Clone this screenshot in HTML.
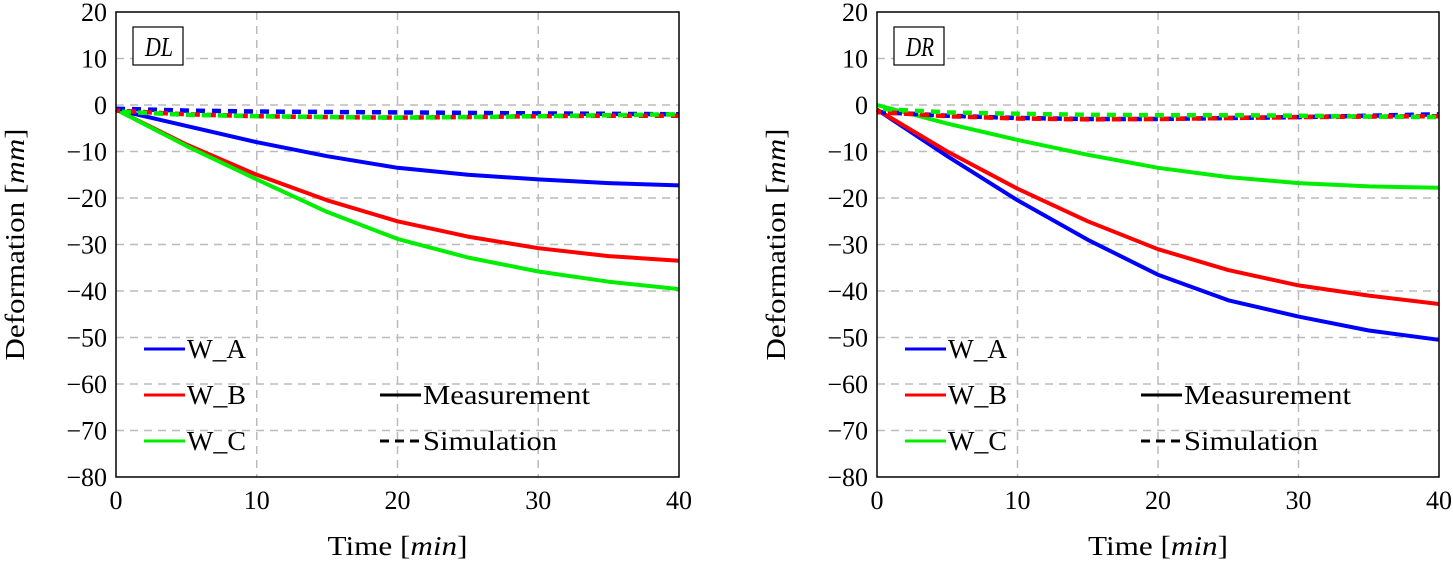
<!DOCTYPE html>
<html><head><meta charset="utf-8"><style>
body{margin:0;background:#fff;width:1453px;height:561px;overflow:hidden}
svg{font-family:"Liberation Serif",serif}
</style></head><body>
<svg id="s" width="1453" height="561"></svg>
<script>
const xVals=[0,5,10,15,20,25,30,35,40];
const xTicks=[0,10,20,30,40];
const yTicks=[20,10,0,-10,-20,-30,-40,-50,-60,-70,-80];
const seriesNames=["W_A","W_B","W_C"];
const dlMeasA=[-1,-4.5,-8,-11,-13.5,-15,-16,-16.8,-17.3];
const dlMeasB=[-1,-8.5,-15,-20.5,-25,-28.3,-30.8,-32.5,-33.5];
const dlMeasC=[-1,-8.8,-16,-23,-28.8,-32.8,-35.8,-38,-39.6];
const dlSimA=[-0.8,-1.2,-1.4,-1.5,-1.6,-1.7,-1.8,-1.9,-2];
const dlSimB=[-1.2,-2,-2.4,-2.6,-2.7,-2.6,-2.4,-2.3,-2.3];
const dlSimC=[-1.4,-2.1,-2.4,-2.6,-2.7,-2.6,-2.4,-2.2,-2];
const drMeasA=[-1,-11,-20.5,-29,-36.5,-42,-45.5,-48.5,-50.5];
const drMeasB=[-1,-10,-18,-25,-31,-35.5,-38.8,-41,-42.8];
const drMeasC=[0,-4,-7.5,-10.7,-13.5,-15.5,-16.8,-17.5,-17.8];
const drSimA=[-1.5,-2.3,-2.8,-3,-3,-2.8,-2.6,-2.3,-2];
const drSimB=[-1.5,-2.4,-2.9,-3.1,-3,-2.8,-2.6,-2.5,-2.4];
const drSimC=[-0.8,-1.6,-1.9,-2.1,-2.2,-2.2,-2.3,-2.5,-2.6];
const colors=["#0000ff","#ff0000","#00ee00"];
const NS="http://www.w3.org/2000/svg";
const svg=document.getElementById('s');
function mk(tag,attrs,parent,text){const e=document.createElementNS(NS,tag);for(const k in attrs)e.setAttribute(k,attrs[k]);if(text!==undefined)e.textContent=text;(parent||svg).appendChild(e);return e;}
function panel(x0,x1,title,meas,sims,id){
  const y0=12,y1=477;
  const sx=v=>x0+(v-0)/40*(x1-x0);
  const sy=v=>y0+(20-v)/100*(y1-y0);
  const g=mk('g',{});
  
  
  xTicks.forEach(t=>{if(t>0&&t<40){const l=mk('line',{x1:sx(t),x2:sx(t),y1:y0,y2:y1,stroke:'#bbb','stroke-width':1.5,'stroke-dasharray':'8 6'},g);}
    const tx=mk('text',{x:sx(t),y:y1+32,'text-anchor':'middle','font-size':26},g,String(t));});
  yTicks.forEach(t=>{if(t<20&&t>-80){const l=mk('line',{x1:x0,x2:x1,y1:sy(t),y2:sy(t),stroke:'#bbb','stroke-width':1.5,'stroke-dasharray':'8 6'},g);}
    const tx=mk('text',{x:x0-9,y:sy(t)+9,'text-anchor':'end','font-size':26},g,(t<0?'\u2212'+(-t):String(t)));});
  const path=arr=>arr.map((v,i)=>(i?'L':'M')+sx(xVals[i]).toFixed(1)+','+sy(v).toFixed(1)).join(' ');
  meas.forEach((arr,i)=>{const p=mk('path',{d:path(arr),fill:'none',stroke:colors[i],'stroke-width':4,'stroke-linejoin':'round'},g);});
  sims.forEach((arr,i)=>{const p=mk('path',{d:path(arr),fill:'none',stroke:colors[i],'stroke-width':4.5,'stroke-dasharray':'9 7','stroke-dashoffset':i*5},g);});
  const fr=mk('rect',{x:x0,y:y0,width:x1-x0,height:y1-y0,fill:'none',stroke:'#000','stroke-width':1.5},g);
  const tb=mk('rect',{x:x0+17,y:27,width:50,height:38,fill:'#fff',stroke:'#000','stroke-width':1.2},g);
  const tt=mk('text',{x:x0+29,y:56,'font-size':27,'font-style':'italic',textLength:28,lengthAdjust:'spacingAndGlyphs'},g,title);
  const xl=mk('text',{x:(x0+x1)/2-70,y:555,'font-size':27,textLength:140,lengthAdjust:'spacingAndGlyphs'},g);
  mk('tspan',{},xl,'Time [');mk('tspan',{'font-style':'italic'},xl,'min');mk('tspan',{},xl,']');
  const yl=mk('text',{transform:`translate(${x0-92},${(y0+y1)/2+116}) rotate(-90)`,'font-size':27,textLength:232,lengthAdjust:'spacingAndGlyphs'},g);
  mk('tspan',{},yl,'Deformation [');mk('tspan',{'font-style':'italic'},yl,'mm');mk('tspan',{},yl,']');
  const ly=[349,395,441];
  seriesNames.forEach((n,i)=>{const le=mk('g',{},g);
    mk('line',{x1:x0+28,x2:x0+69,y1:ly[i],y2:ly[i],stroke:colors[i],'stroke-width':3},le);
    mk('text',{x:x0+71,y:ly[i]+9,'font-size':27,textLength:59,lengthAdjust:'spacingAndGlyphs'},le,n);});
  const lm=mk('g',{},g);
  mk('line',{x1:x0+264,x2:x0+305,y1:395,y2:395,stroke:'#000','stroke-width':3},lm);
  mk('text',{x:x0+307,y:404,'font-size':27,textLength:167,lengthAdjust:'spacingAndGlyphs'},lm,'Measurement');
  const ls=mk('g',{},g);
  mk('line',{x1:x0+264,x2:x0+305,y1:441,y2:441,stroke:'#000','stroke-width':3,'stroke-dasharray':'9 6'},ls);
  mk('text',{x:x0+307,y:450,'font-size':27,textLength:134,lengthAdjust:'spacingAndGlyphs'},ls,'Simulation');
}
panel(116,679,'DL',[dlMeasA,dlMeasB,dlMeasC],[dlSimA,dlSimB,dlSimC],'dl');
panel(877,1439,'DR',[drMeasA,drMeasB,drMeasC],[drSimA,drSimB,drSimC],'dr');
</script>
</body></html>
